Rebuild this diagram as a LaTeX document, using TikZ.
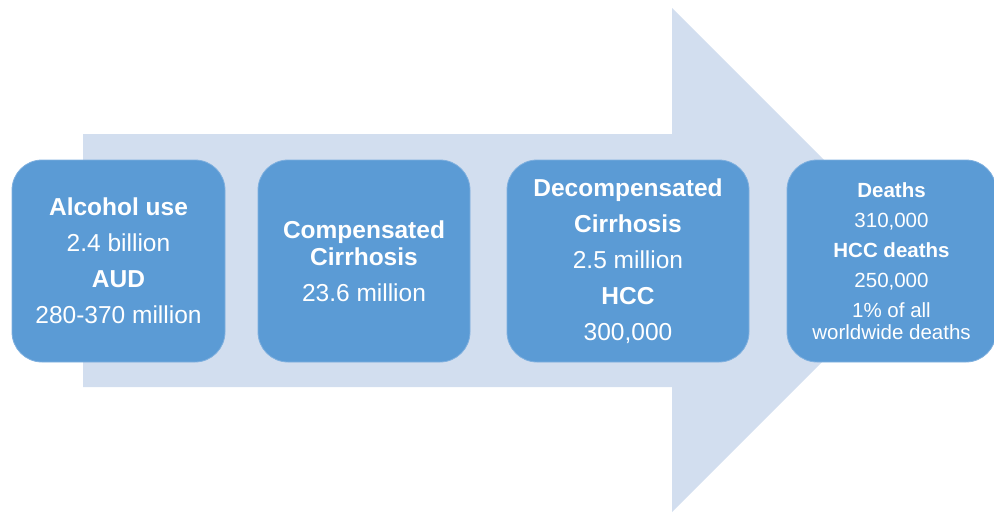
\documentclass[tikz,border=0pt]{standalone}
\usepackage{fontspec}
\setmainfont{Liberation Sans}
\usepackage{tikz}
\usetikzlibrary{positioning}

\definecolor{boxblue}{HTML}{5B9BD5}
\definecolor{arrowblue}{HTML}{D2DEEF}
\definecolor{edgeblue}{HTML}{7FB0DF}

\begin{document}
\begin{tikzpicture}[x=1pt,y=-1pt,
	stage/.style={rectangle,rounded corners=30pt,fill=boxblue,draw=edgeblue,line width=0.8pt,minimum height=202pt,inner sep=0pt},
	big/.style={text=white,align=center,font=\fontsize{24.5}{36}\selectfont},
	small/.style={text=white,align=center,font=\fontsize{20.5}{22}\selectfont}]
			
			\useasboundingbox (0,0) rectangle (994,512);
			
			% background arrow
			\fill[arrowblue] (83,134) -- (672,134) -- (672,8) -- (924,260) -- (672,512) -- (672,387) -- (83,387) -- cycle;
			
			\node[stage,minimum width=213pt] (B1) at (118.5,261) {};
			\node[big] (T1) at (B1) {\textbf{Alcohol use}\\2.4 billion\\\textbf{AUD}\\280-370 million};
			
			\node[stage,minimum width=212pt] (B2) at (364,261) {};
			\node[big,font=\fontsize{24.5}{27}\selectfont] (T2) at (B2) {\textbf{Compensated}\\\textbf{Cirrhosis}\\[9pt]23.6 million};
			
			\node[stage,minimum width=242pt] (B3) at (628,261) {};
			\node[big] (T3) at (B3) {\textbf{Decompensated}\\\textbf{Cirrhosis}\\2.5 million\\\textbf{HCC}\\300,000};
			
			\node[stage,minimum width=209pt] (B4) at (891.5,261) {};
			\node[small] (T4) at (B4) {\textbf{Deaths}\\[8pt]310,000\\[8pt]\textbf{HCC deaths}\\[8pt]250,000\\[8pt]1\% of all\\worldwide deaths};
			
		\end{tikzpicture}
\end{document}
